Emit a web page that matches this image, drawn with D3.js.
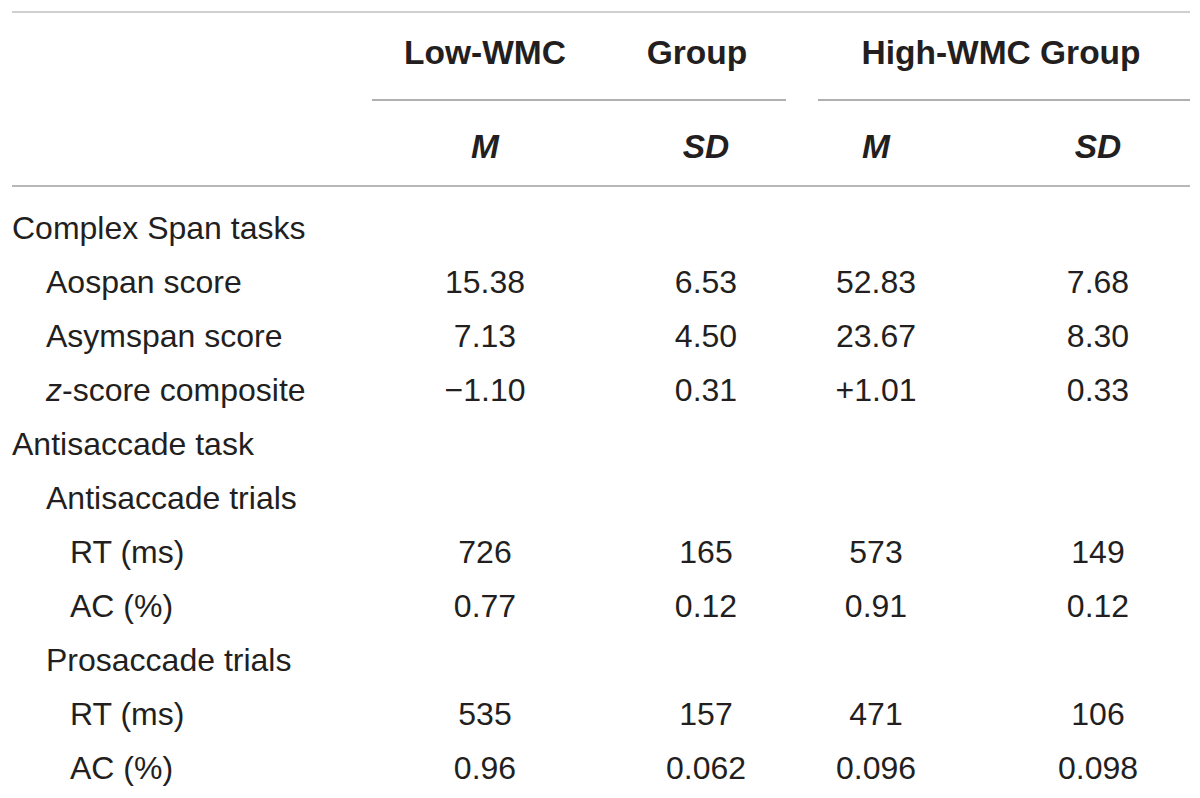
<!DOCTYPE html>
<html><head><meta charset="utf-8">
<script src="https://cdn.jsdelivr.net/npm/d3@7"></script>
<style>body{margin:0;background:#fff}svg{display:block}</style>
</head><body>
<script>
// ---- data ----
const groupHeaders = ["Low-WMC", "Group", "High-WMC Group"];
const columns = ["lowM", "lowSD", "highM", "highSD"];
const columnLabels = ["M", "SD", "M", "SD"];
const rowLabels = ["Complex Span tasks", "Aospan score", "Asymspan score", "z-score composite",
  "Antisaccade task", "Antisaccade trials", "RT (ms)", "AC (%)",
  "Prosaccade trials", "RT (ms)", "AC (%)"];
const rowLevels = [0, 1, 1, 1, 0, 1, 2, 2, 1, 2, 2];
const lowM   = ["", "15.38", "7.13", "\u22121.10", "", "", "726", "0.77", "", "535", "0.96"];
const lowSD  = ["", "6.53", "4.50", "0.31", "", "", "165", "0.12", "", "157", "0.062"];
const highM  = ["", "52.83", "23.67", "+1.01", "", "", "573", "0.91", "", "471", "0.096"];
const highSD = ["", "7.68", "8.30", "0.33", "", "", "149", "0.12", "", "106", "0.098"];
const values = {lowM, lowSD, highM, highSD};

const W = 1200, H = 798;
const svg = d3.select("body").append("svg").attr("width", W).attr("height", H);
const font = "'Liberation Sans', Arial, Helvetica, sans-serif";
const ink = "#231f20";

const x = d3.scaleOrdinal().domain(columns).range([485, 706, 876, 1098]);
const y = d3.scaleLinear().domain([0, rowLabels.length - 1]).range([239, 779]);
const indent = d3.scaleOrdinal().domain([0, 1, 2]).range([12, 46, 70]);
const left = 12, right = 1190;

// rules
const rules = [
  {x1: left, x2: right, y: 12, c: "#cfcfcf"},
  {x1: 372, x2: 786, y: 100, c: "#b0b0b0"},
  {x1: 818, x2: right, y: 100, c: "#b0b0b0"},
  {x1: left, x2: right, y: 186, c: "#b8b8b8"}
];
svg.selectAll("line.rule").data(rules).join("line")
  .attr("x1", d => d.x1).attr("x2", d => d.x2)
  .attr("y1", d => d.y).attr("y2", d => d.y)
  .attr("stroke", d => d.c).attr("stroke-width", 2);

// group headers
const ghX = [x("lowM"), x("lowSD") - 9, (x("highM") + x("highSD")) / 2 + 14];
svg.selectAll("text.gh").data(groupHeaders).join("text")
  .attr("class", "gh")
  .attr("x", (d, i) => ghX[i]).attr("y", 64)
  .attr("text-anchor", "middle")
  .attr("font-family", font).attr("font-weight", "bold").attr("font-size", 33.5)
  .attr("fill", ink).text(d => d);

// M / SD
svg.selectAll("text.cl").data(columnLabels).join("text")
  .attr("class", "cl")
  .attr("x", (d, i) => x(columns[i])).attr("y", 158)
  .attr("text-anchor", "middle")
  .attr("font-family", font).attr("font-weight", "bold").attr("font-style", "italic")
  .attr("font-size", 33.5).attr("fill", ink).text(d => d);

// row labels
const rl = svg.selectAll("text.rl").data(rowLabels).join("text")
  .attr("class", "rl")
  .attr("x", (d, i) => indent(rowLevels[i])).attr("y", (d, i) => y(i))
  .attr("font-family", font).attr("font-size", 32).attr("fill", ink);
rl.each(function(d) {
  const t = d3.select(this);
  if (d.startsWith("z-")) {
    t.append("tspan").attr("font-style", "italic").text("z");
    t.append("tspan").text(d.slice(1));
  } else t.text(d);
});

// values
columns.forEach(col => {
  svg.selectAll("text.v-" + col).data(values[col]).join("text")
    .attr("class", "v-" + col)
    .attr("x", x(col)).attr("y", (d, i) => y(i))
    .attr("text-anchor", "middle")
    .attr("font-family", font).attr("font-size", 32).attr("fill", ink)
    .text(d => d);
});
</script>
</body></html>
